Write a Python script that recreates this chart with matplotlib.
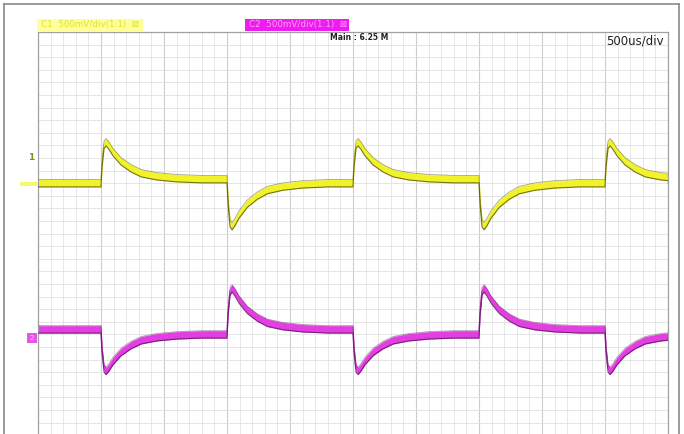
import matplotlib
matplotlib.use('agg')
import matplotlib.pyplot as plt
from matplotlib.patches import Rectangle
from matplotlib.lines import Line2D

# scope settings
time_per_div_us = 500
volt_per_div_mv = 500

# edge times (us) and polarity of each channel
edge_us = [500, 1500, 2500, 3500, 4500]
ch1_sign = [1, -1, 1, -1, 1]
ch2_sign = [-1, 1, -1, 1, -1]

# spike height above / below the new level (mV)
ch1_peak_mv = [294, 341, 294, 341, 294]
ch2_peak_mv = [290, 325, 290, 325, 290]

# ground offsets on screen and the two steady levels (mV)
ch1_offset_mv = 800
ch2_offset_mv = -400
ch1_low_high = [0, 32]
ch2_low_high = [0, 40]

# spike shape: time after edge (us) -> fraction of peak
shape_us = [0, 8, 24, 40, 64, 95, 160, 240, 320, 440, 600, 800]
shape_frac = [0, 0.40, 0.93, 1.0, 0.90, 0.73, 0.48, 0.29, 0.16, 0.08, 0.027, 0]

W, H = 684, 434
px = volt_per_div_mv / 63.0  # mV per pixel


def build(signs, peaks, offset, levels):
    level = levels[0] if signs[0] > 0 else levels[1]
    t, v = [0], [offset + level]
    for e, s, p in zip(edge_us, signs, peaks):
        t.append(e)
        v.append(offset + level)
        level = levels[1] if s > 0 else levels[0]
        for dt, f in zip(shape_us, shape_frac):
            if dt == 0:
                continue
            t.append(e + dt)
            v.append(offset + level + s * p * f)
    t.append(10 * time_per_div_us)
    v.append(offset + level)
    return t, v


fig = plt.figure(figsize=(W / 100, H / 100), dpi=100)
fig.patch.set_facecolor('white')

def fx(x):
    return x / W

def fy(y):
    return 1 - y / H

# axes: left 38px, right 668px, top 32px, 8 divs of 63px down to 536px
ax = fig.add_axes([fx(38), fy(536), (668 - 38) / W, 504 / H])
ax.set_xlim(0, 10 * time_per_div_us)
ax.set_ylim(-4 * volt_per_div_mv, 4 * volt_per_div_mv)
ax.set_xticks([])
ax.set_yticks([])
for s in ax.spines.values():
    s.set_color('#a0a0a0')
    s.set_linewidth(0.9)

for k in range(1, 50):
    x = k * time_per_div_us / 5
    ax.axvline(x, color='#cdcdcd' if k % 5 == 0 else '#e2e2e2',
               lw=0.8 if k % 5 == 0 else 0.6, zorder=0)
for k in range(-19, 20):
    y = k * volt_per_div_mv / 5
    ax.axhline(y, color='#e0e0e0', lw=0.6, zorder=0)

hw = 3.7 * px
for signs, peaks, off, lv, col, dark in [
        (ch1_sign, ch1_peak_mv, ch1_offset_mv, ch1_low_high, '#f2f22a', '#3e3e08'),
        (ch2_sign, ch2_peak_mv, ch2_offset_mv, ch2_low_high, '#e23ee2', '#4a104a')]:
    t, v = build(signs, peaks, off, lv)
    lo = [a - hw for a in v]
    hi = [a + hw for a in v]
    ax.fill_between(t, lo, hi, color=col, lw=0, zorder=2)
    ax.plot(t, v, color=col, lw=1.0, zorder=2)
    ax.plot(t, lo, color=dark, lw=0.8, alpha=0.7, zorder=3)
    ax.plot(t, hi, color=dark, lw=0.6, alpha=0.45, zorder=3)

# outer frame
for xs, ys in [([4, 4], [4, H]), ([4, 679], [4, 4]), ([679, 679], [4, H])]:
    fig.add_artist(Line2D([fx(a) for a in xs], [fy(b) for b in ys],
                          color='#8a8a8a', lw=1.2))

# channel label boxes
fig.add_artist(Rectangle((fx(37), fy(31)), (143 - 37) / W, 12 / H,
                         facecolor='#ffff9a', edgecolor='none'))
fig.text(fx(41), fy(25), 'C1  500mV/div(1:1)  \u22a0', color='#e0e030',
         fontsize=6.3, va='center', ha='left')
fig.add_artist(Rectangle((fx(245), fy(31)), (349 - 245) / W, 12 / H,
                         facecolor='#ee1cee', edgecolor='none'))
fig.text(fx(249), fy(25), 'C2  500mV/div(1:1)  \u22a0', color='#ff9cff',
         fontsize=6.3, va='center', ha='left')

fig.text(fx(330), fy(38), 'Main : 6.25 M', fontsize=5.5, fontweight='bold',
         color='#222222', va='center', ha='left')
fig.text(fx(664), fy(41), '500us/div', fontsize=8.5, color='#222222',
         va='center', ha='right')

# ground markers
fig.text(fx(31), fy(158), '1', fontsize=6.5, color='#8a8a20', va='center',
         ha='center', fontweight='bold')
fig.add_artist(Rectangle((fx(20), fy(185.5)), 18 / W, 4 / H,
                         facecolor='#f8f870', edgecolor='none'))
fig.add_artist(Rectangle((fx(27), fy(343)), 10 / W, 10 / H,
                         facecolor='#e455e4', edgecolor='none'))
fig.text(fx(32), fy(338), '2', fontsize=5, color='#ffccff', va='center',
         ha='center')

fig.savefig('out.png', dpi=100)
